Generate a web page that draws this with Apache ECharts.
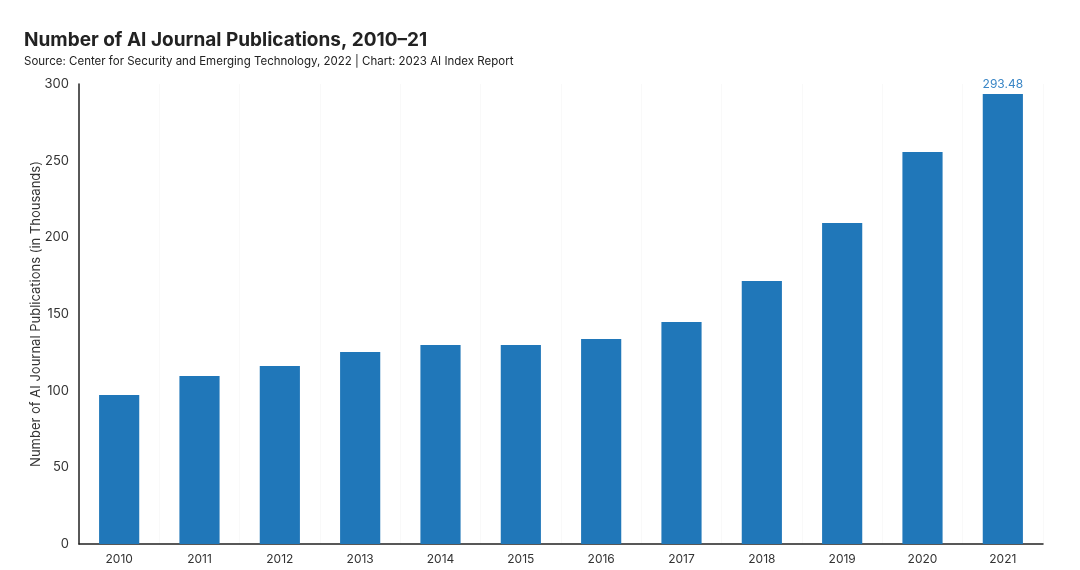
<!DOCTYPE html>
<html><head><meta charset="utf-8">
<script src="https://cdn.jsdelivr.net/npm/echarts@6/dist/echarts.min.js"></script>
<style>html,body{margin:0;padding:0;background:#fff}#c{width:1080px;height:570px}</style>
</head><body><div id="c"></div>
<script>
const years = ['2010','2011','2012','2013','2014','2015','2016','2017','2018','2019','2020','2021'];
const publications = [97.2, 109.6, 116.1, 125.2, 129.8, 129.8, 133.7, 144.8, 171.5, 209.4, 255.7, 293.48];
const yTicks = [0, 50, 100, 150, 200, 250, 300];
const labelled = ['2021'];

const chart = echarts.init(document.getElementById('c'));
chart.setOption({
  animation: false,
  textStyle: {fontFamily: 'Inter, Lato, sans-serif'},
  title: [{
    text: 'Number of AI Journal Publications, 2010–21',
    left: 19, top: 26,
    textStyle: {fontSize: 19, fontWeight: 'bold', color: '#222', fontFamily: 'Inter, sans-serif'}
  }, {
    text: 'Source: Center for Security and Emerging Technology, 2022 | Chart: 2023 AI Index Report',
    left: 19, top: 51,
    textStyle: {fontSize: 11.5, fontWeight: 'normal', color: '#222', fontFamily: 'Inter, sans-serif'}
  }],
  grid: {left: 79, right: 37, top: 84, bottom: 26},
  xAxis: {
    type: 'category', data: years,
    axisLine: {lineStyle: {color: '#222', width: 1.5}},
    axisTick: {show: false},
    axisLabel: {color: '#333', fontSize: 12, margin: 9},
    splitLine: {show: true, lineStyle: {color: '#f9f9f9'}}
  },
  yAxis: {
    type: 'value', min: yTicks[0], max: yTicks[yTicks.length - 1], interval: 50,
    name: 'Number of AI Journal Publications (in Thousands)',
    nameLocation: 'middle', nameGap: 36, nameMoveOverlap: false,
    nameTextStyle: {fontSize: 13, color: '#333'},
    axisLine: {show: true, lineStyle: {color: '#222', width: 1.5}},
    axisTick: {show: false},
    axisLabel: {color: '#333', fontSize: 13, margin: 10},
    splitLine: {show: false}
  },
  series: [{
    type: 'bar', data: publications.map((v, i) => ({
      value: v,
      label: {show: labelled.includes(years[i])}
    })),
    barWidth: '50%',
    itemStyle: {color: '#2077b9'},
    label: {position: 'top', color: '#3a86c6', fontSize: 12, distance: 4,
      formatter: p => p.value.toFixed(2)}
  }]
});
</script></body></html>
